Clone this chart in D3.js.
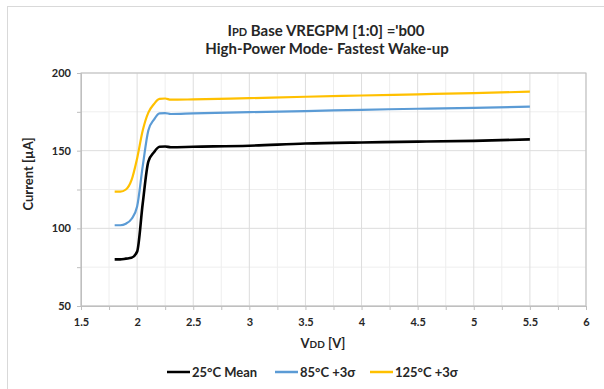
<!DOCTYPE html>
<html>
<head>
<meta charset="utf-8">
<script src="https://cdn.jsdelivr.net/npm/d3@7"></script>
<style>
  body { margin: 0; background: #fff; }
  text { font-family: Lato, "Open Sans", sans-serif; font-weight: bold; fill: #262626; }
</style>
</head>
<body>
<svg width="604" height="389"></svg>
<script>
// VDD sweep points (V)
let vdd = [1.8, 1.85, 1.9, 1.95, 2.0, 2.05, 2.1, 2.15, 2.2, 2.25, 2.3, 2.5, 3, 3.5, 4, 4.5, 5, 5.5];
// current in uA
let mean25 = [80, 80, 80.5, 81, 85, 116, 143, 149, 152.5, 152.7, 152.2, 152.5, 153.2, 154.6, 155.3, 155.8, 156.3, 157.3];
let sigma85 = [102, 102, 103, 106, 114, 140, 163, 170, 174, 174.2, 173.6, 174, 174.8, 175.5, 176.3, 177, 177.6, 178.3];
let sigma125 = [123.6, 123.6, 125, 131, 145, 163, 174.5, 180, 183.3, 183.6, 182.8, 183, 183.8, 184.7, 185.5, 186.3, 187, 188];
let seriesNames = ["25°C Mean", "85°C +3σ", "125°C +3σ"];
let seriesColors = ["#000000", "#5b9bd5", "#ffc000"];
let xTicks = [1.5, 2, 2.5, 3, 3.5, 4, 4.5, 5, 5.5, 6];
let yTicks = [50, 100, 150, 200];

let svg = d3.select("svg");

// outer chart border
svg.append("rect")
  .attr("x", 7.5).attr("y", 6.5)
  .attr("width", 620).attr("height", 400)
  .attr("fill", "none").attr("stroke", "#d9d9d9");

let margin = {left: 81, right: 586, top: 73, bottom: 306};
let x = d3.scaleLinear().domain([1.5, 6]).range([margin.left, margin.right]);
let y = d3.scaleLinear().domain([50, 200]).range([margin.bottom, margin.top]);

// minor grid
let g = svg.append("g");
g.selectAll(".vmin").data(d3.range(1.75, 6, 0.5)).enter().append("line")
  .attr("x1", d => x(d)).attr("x2", d => x(d))
  .attr("y1", margin.top).attr("y2", margin.bottom)
  .attr("stroke", "#eeeeee");
g.selectAll(".hmin").data([75, 125, 175]).enter().append("line")
  .attr("x1", margin.left).attr("x2", margin.right)
  .attr("y1", d => y(d)).attr("y2", d => y(d))
  .attr("stroke", "#eeeeee");
// major grid
g.selectAll(".vmaj").data(xTicks).enter().append("line")
  .attr("x1", d => x(d)).attr("x2", d => x(d))
  .attr("y1", margin.top).attr("y2", margin.bottom)
  .attr("stroke", "#dddddd");
g.selectAll(".hmaj").data(yTicks).enter().append("line")
  .attr("x1", margin.left).attr("x2", margin.right)
  .attr("y1", d => y(d)).attr("y2", d => y(d))
  .attr("stroke", "#dddddd");

// plot frame
svg.append("rect")
  .attr("x", margin.left).attr("y", margin.top)
  .attr("width", margin.right - margin.left).attr("height", margin.bottom - margin.top)
  .attr("fill", "none").attr("stroke", "#bfbfbf");

// axes
let xAxis = svg.append("g").attr("transform", "translate(0," + margin.bottom + ")")
  .call(d3.axisBottom(x).tickValues(d3.range(1.5, 6.01, 0.25)).tickSize(4)
    .tickFormat(d => xTicks.includes(d) ? d3.format("")(d) : ""));
let yAxis = svg.append("g").attr("transform", "translate(" + margin.left + ",0)")
  .call(d3.axisLeft(y).tickValues(d3.range(50, 201, 25)).tickSize(4)
    .tickFormat(d => yTicks.includes(d) ? d : ""));
[xAxis, yAxis].forEach(a => {
  a.select(".domain").attr("stroke", "#bfbfbf");
  a.selectAll(".tick line").attr("stroke", "#bfbfbf");
  a.selectAll(".tick text").style("font-size", "11px").attr("fill", "#262626");
});
xAxis.selectAll(".tick text").attr("dy", "1.2em");
yAxis.selectAll(".tick text").attr("dx", "-3");

// lines
let line = d3.line().curve(d3.curveMonotoneX)
  .x(d => x(d[0])).y(d => y(d[1]));
[mean25, sigma85, sigma125].forEach((vals, i) => {
  svg.append("path")
    .datum(vdd.map((v, j) => [v, vals[j]]))
    .attr("d", line)
    .attr("fill", "none")
    .attr("stroke", seriesColors[i])
    .attr("stroke-width", i == 0 ? 2.6 : 2.2)
    .attr("stroke-linejoin", "round");
});

// title
let title = svg.append("text").attr("x", 326).attr("y", 36)
  .attr("text-anchor", "middle").style("font-size", "15px");
title.append("tspan").text("I");
title.append("tspan").style("font-size", "11px").text("PD");
title.append("tspan").text(" Base VREGPM [1:0] ='b00");
svg.append("text").attr("x", 327).attr("y", 54)
  .attr("text-anchor", "middle").style("font-size", "15px")
  .text("High-Power Mode- Fastest Wake-up");

// axis titles
let xt = svg.append("text").attr("x", 323).attr("y", 348)
  .attr("text-anchor", "middle").style("font-size", "13px");
xt.append("tspan").text("V");
xt.append("tspan").style("font-size", "10px").text("DD");
xt.append("tspan").text(" [V]");
svg.append("text")
  .attr("transform", "translate(33,174) rotate(-90)")
  .attr("text-anchor", "middle").style("font-size", "13px")
  .text("Current [µA]");

// legend
let legendX = [167, 275, 370];
seriesNames.forEach((name, i) => {
  svg.append("line")
    .attr("x1", legendX[i]).attr("x2", legendX[i] + 23)
    .attr("y1", 372).attr("y2", 372)
    .attr("stroke", seriesColors[i]).attr("stroke-width", 2.5);
  svg.append("text")
    .attr("x", legendX[i] + 25).attr("y", 376.5)
    .style("font-size", "13px")
    .text(name);
});
</script>
</body>
</html>
